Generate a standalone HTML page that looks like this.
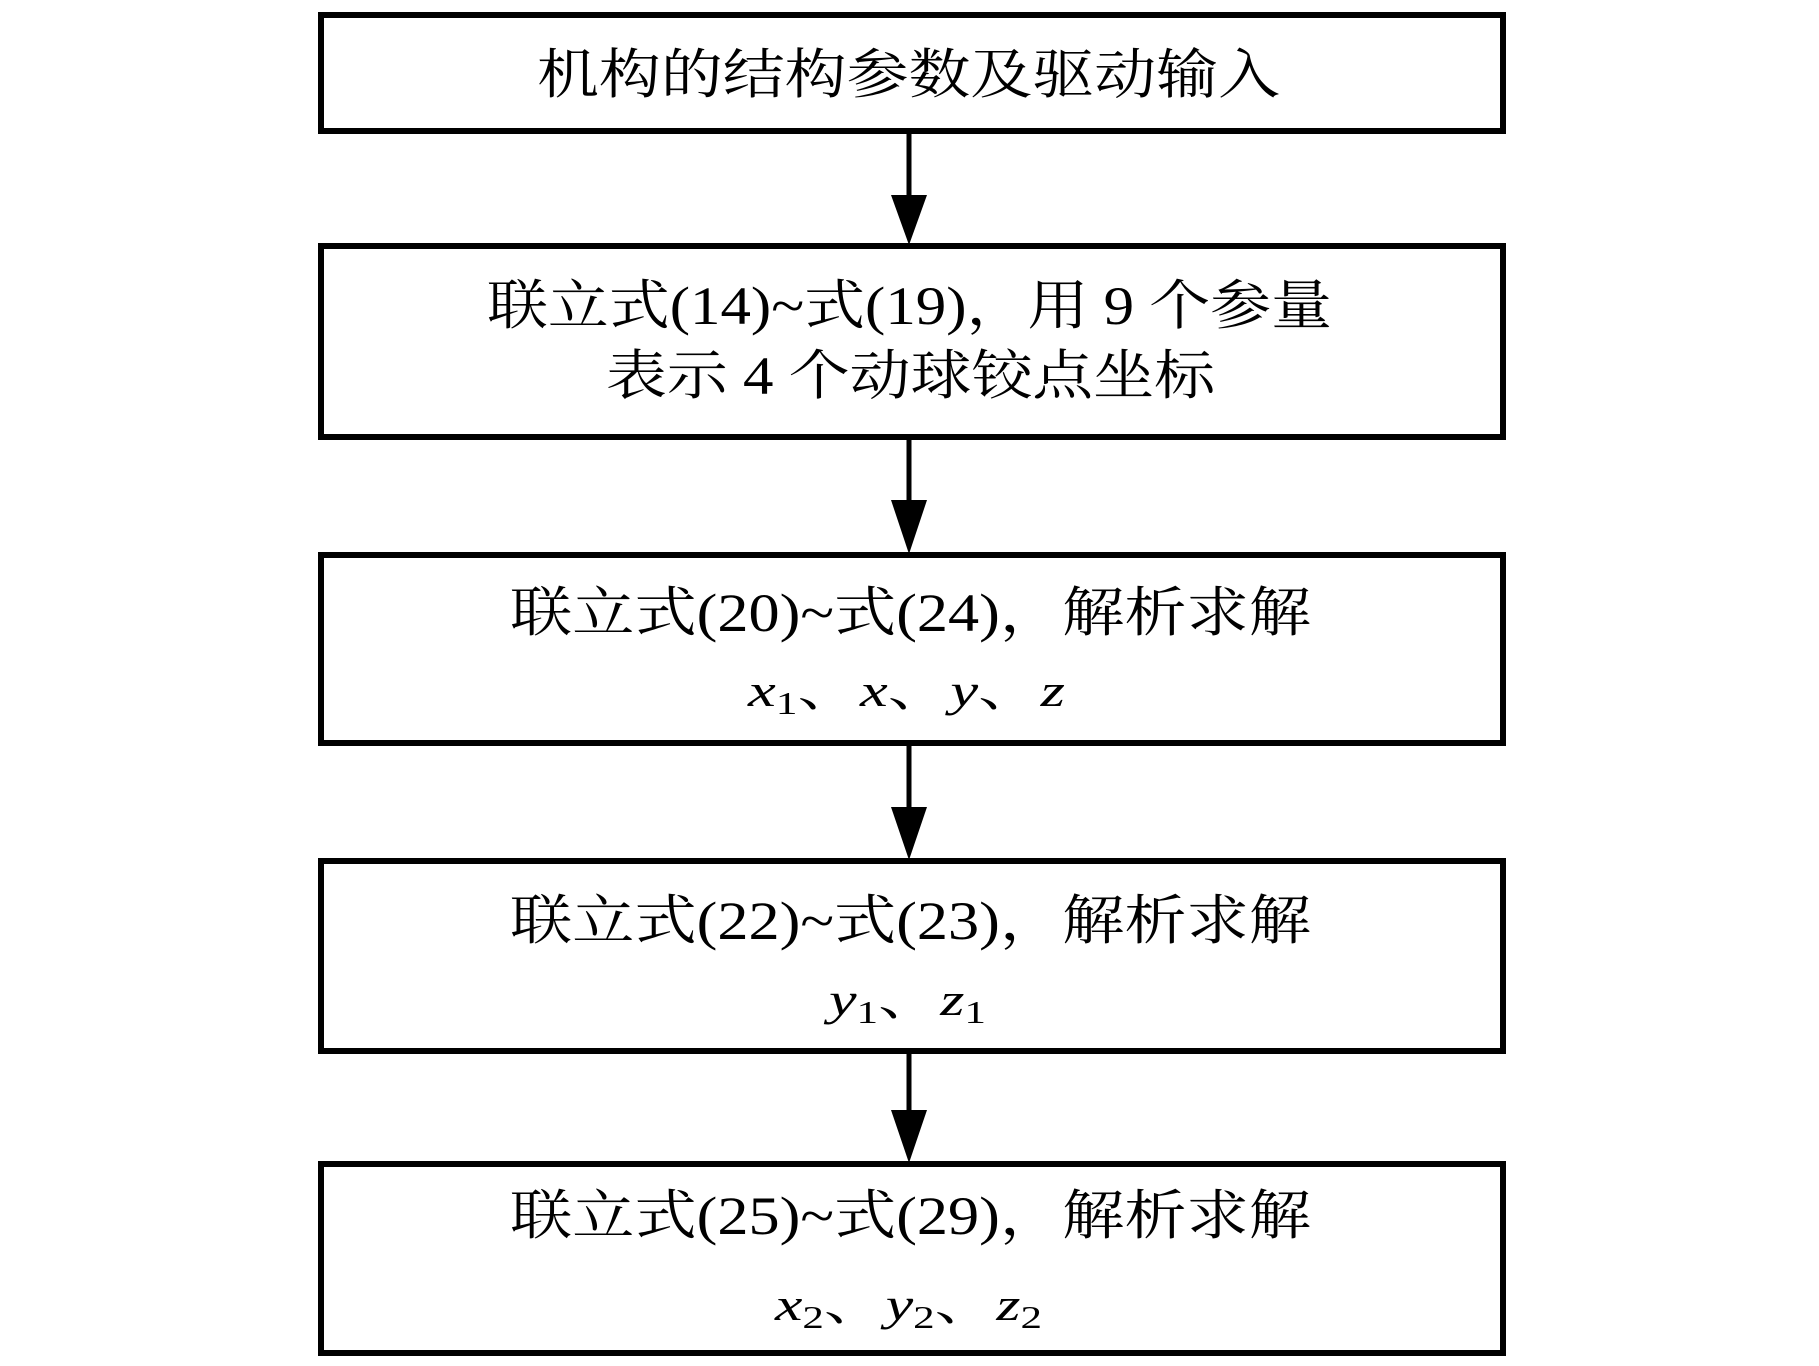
<!DOCTYPE html>
<html><head><meta charset="utf-8"><style>
html,body{margin:0;padding:0;background:#fff;}
svg{display:block;}
text{font-family:"Liberation Serif","Noto Serif CJK SC",serif;fill:#000;}
</style></head><body>
<svg width="1819" height="1366" viewBox="0 0 1819 1366">
<g fill="none" stroke="#000" stroke-width="6">
<rect x="321" y="15" width="1182" height="116"/>
<rect x="321" y="246" width="1182" height="191"/>
<rect x="321" y="555" width="1182" height="188"/>
<rect x="321" y="861" width="1182" height="190"/>
<rect x="321" y="1164" width="1182" height="189"/>
</g>
<g stroke="#000" stroke-width="5">
<line x1="909" y1="131" x2="909" y2="200"/>
<line x1="909" y1="437" x2="909" y2="505"/>
<line x1="909" y1="743" x2="909" y2="812"/>
<line x1="909" y1="1051" x2="909" y2="1115"/>
</g>
<g fill="#000">
<polygon points="891,195 927,195 909,245"/>
<polygon points="891,500 927,500 909,554"/>
<polygon points="891,807 927,807 909,860"/>
<polygon points="891,1110 927,1110 909,1163"/>
</g>
<g font-size="54">
<text x="537" y="93" textLength="743" lengthAdjust="spacingAndGlyphs">机构的结构参数及驱动输入</text>
<text x="487" y="324" textLength="845" lengthAdjust="spacingAndGlyphs">联立式(14)~式(19)，用 9 个参量</text>
<text x="606" y="394" textLength="609" lengthAdjust="spacingAndGlyphs">表示 4 个动球铰点坐标</text>
<text x="510" y="631" textLength="801" lengthAdjust="spacingAndGlyphs">联立式(20)~式(24)，解析求解</text>
<text x="510" y="939" textLength="801" lengthAdjust="spacingAndGlyphs">联立式(22)~式(23)，解析求解</text>
<text x="510" y="1234" textLength="801" lengthAdjust="spacingAndGlyphs">联立式(25)~式(29)，解析求解</text>
</g>
<g font-size="46">
<text x="748" y="706" textLength="317" lengthAdjust="spacingAndGlyphs"><tspan font-style="italic">x</tspan><tspan font-size="32" dy="8">1</tspan><tspan dy="-8">、</tspan><tspan font-style="italic">x</tspan><tspan>、</tspan><tspan font-style="italic">y</tspan><tspan>、</tspan><tspan font-style="italic">z</tspan></text>
<text x="829" y="1015" textLength="157" lengthAdjust="spacingAndGlyphs"><tspan font-style="italic">y</tspan><tspan font-size="32" dy="8">1</tspan><tspan dy="-8">、</tspan><tspan font-style="italic">z</tspan><tspan font-size="32" dy="8">1</tspan></text>
<text x="775" y="1320" textLength="267" lengthAdjust="spacingAndGlyphs"><tspan font-style="italic">x</tspan><tspan font-size="32" dy="8">2</tspan><tspan dy="-8">、</tspan><tspan font-style="italic">y</tspan><tspan font-size="32" dy="8">2</tspan><tspan dy="-8">、</tspan><tspan font-style="italic">z</tspan><tspan font-size="32" dy="8">2</tspan></text>
</g>
</svg>
</body></html>
